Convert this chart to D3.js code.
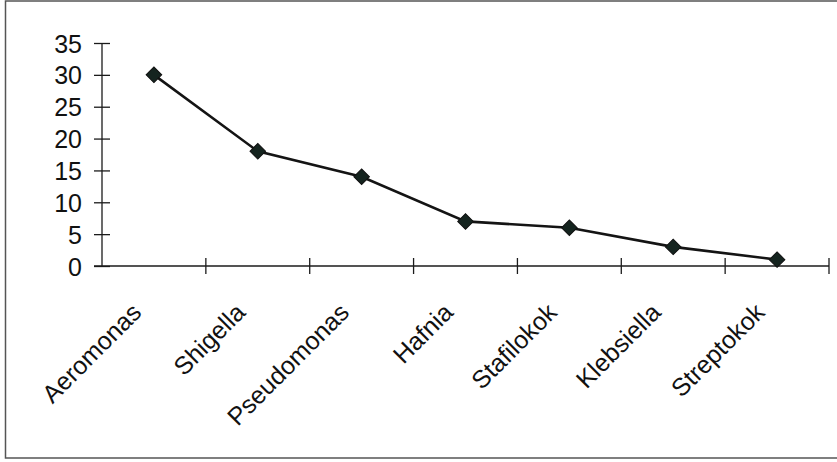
<!DOCTYPE html>
<html>
<head>
<meta charset="utf-8">
<script src="https://cdn.jsdelivr.net/npm/d3@7/dist/d3.min.js"></script>
<style>
  html, body { margin: 0; padding: 0; background: #fff; }
  svg { display: block; }
  text { font-family: "Liberation Sans", Arial, sans-serif; fill: #111; }
</style>
</head>
<body>
<svg id="chart" width="837" height="462"></svg>
<script>
// Isolates per genus
const categories = ["Aeromonas", "Shigella", "Pseudomonas", "Hafnia", "Stafilokok", "Klebsiella", "Streptokok"];
const counts = [30, 18, 14, 7, 6, 3, 1];
const yTicks = [0, 5, 10, 15, 20, 25, 30, 35];

const svg = d3.select("#chart");
const W = 837, H = 462;

// Outer frame
svg.append("rect")
  .attr("x", 5.5).attr("y", 1)
  .attr("width", W + 10).attr("height", 457)
  .attr("fill", "none").attr("stroke", "#555").attr("stroke-width", 1.5);

const x = d3.scaleBand().domain(categories).range([102, 829]).padding(0);
const y = d3.scaleLinear().domain([0, 35]).range([266, 43]);

const ink = "#1b1b1b";

// Y axis: ticks crossing the axis line
const yAxis = svg.append("g").attr("transform", "translate(102,0)")
  .call(d3.axisLeft(y).tickValues(yTicks).tickSize(0).tickPadding(20));
yAxis.select(".domain").remove();
yAxis.append("line").attr("y1", y(35)).attr("y2", y(0))
  .attr("stroke", ink).attr("stroke-width", 1.3);
yAxis.selectAll(".tick").append("line")
  .attr("x1", -8).attr("x2", 8)
  .attr("stroke", ink).attr("stroke-width", 1.3);
yAxis.selectAll(".tick text")
  .attr("font-size", 25)
  .attr("fill", "#111")
  .attr("dy", "0.36em");

// X axis: boundaries between categories, ticks crossing the line
const xg = svg.append("g");
xg.append("line").attr("x1", 94).attr("x2", 829)
  .attr("y1", y(0)).attr("y2", y(0))
  .attr("stroke", ink).attr("stroke-width", 1.3);
const bounds = categories.map(c => x(c) + x.bandwidth());
xg.selectAll("line.xt").data(bounds).enter().append("line")
  .attr("class", "xt")
  .attr("x1", d => d).attr("x2", d => d)
  .attr("y1", y(0) - 8).attr("y2", y(0) + 8)
  .attr("stroke", ink).attr("stroke-width", 1.3);

// Rotated category labels
xg.selectAll("text.cat").data(categories).enter().append("text")
  .attr("class", "cat")
  .attr("text-anchor", "end")
  .attr("font-size", 25)
  .attr("transform", d => `translate(${x(d) + x.bandwidth() / 2 - 11},314) rotate(-45)`)
  .text(d => d);

// Series line and diamond markers
const pts = categories.map((c, i) => [x(c) + x.bandwidth() / 2, y(counts[i])]);
svg.append("path")
  .attr("d", d3.line()(pts))
  .attr("fill", "none").attr("stroke", "#141414").attr("stroke-width", 2.6);

svg.selectAll("path.mk").data(pts).enter().append("path")
  .attr("class", "mk")
  .attr("transform", d => `translate(${d[0]},${d[1]}) rotate(45)`)
  .attr("d", "M-5.5,-5.5H5.5V5.5H-5.5Z")
  .attr("fill", "#15241f").attr("stroke", "#111").attr("stroke-width", 1);
</script>
</body>
</html>
